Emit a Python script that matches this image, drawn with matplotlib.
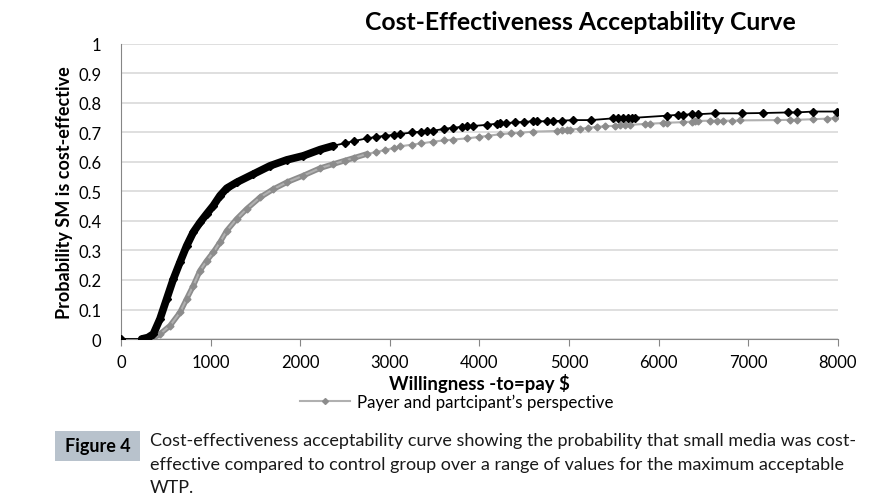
import matplotlib.pyplot as plt
import matplotlib.patches as mpatches
from matplotlib.lines import Line2D

plt.rcParams['font.family'] = ['Lato', 'DejaVu Sans']

# black curve (no legend entry in the original)
sm_x = [0, 231, 300, 361, 435, 510, 584, 658, 733, 807, 882, 956, 1030, 1105,
        1180, 1291, 1477, 1663, 1849, 2035, 2221, 2370, 2500, 2600, 2742, 2850,
        2950, 3050, 3114, 3250, 3350, 3420, 3485, 3600, 3700, 3800, 3858, 3930,
        4085, 4200, 4230, 4300, 4400, 4500, 4602, 4643, 4754, 4825, 4918, 5041,
        5242, 5495, 5550, 5606, 5662, 5699, 5737, 6090, 6220, 6275, 6369, 6443,
        6629, 6927, 7169, 7448, 7541, 7727, 7988]
sm_y = [0, 0, 0.005, 0.017, 0.068, 0.136, 0.203, 0.26, 0.316, 0.362, 0.395,
        0.424, 0.452, 0.486, 0.511, 0.531, 0.559, 0.587, 0.607, 0.621, 0.642,
        0.655, 0.664, 0.671, 0.68, 0.685, 0.689, 0.692, 0.695, 0.700, 0.703,
        0.704, 0.706, 0.712, 0.716, 0.719, 0.721, 0.722, 0.726, 0.730, 0.731,
        0.732, 0.734, 0.736, 0.738, 0.738, 0.738, 0.738, 0.740, 0.742, 0.742,
        0.748, 0.749, 0.749, 0.750, 0.750, 0.750, 0.757, 0.760, 0.760, 0.762,
        0.762, 0.765, 0.765, 0.766, 0.768, 0.768, 0.771, 0.771]

# gray curve: payer and participant's perspective
pp_x = [0, 342, 435, 547, 658, 733, 807, 882, 956, 1030, 1105, 1180, 1291,
        1403, 1551, 1700, 1849, 2035, 2221, 2370, 2500, 2600, 2742, 2850, 2950,
        3050, 3114, 3250, 3350, 3485, 3600, 3700, 3858, 4000, 4100, 4230, 4350,
        4450, 4602, 4862, 4918, 4974, 5011, 5123, 5216, 5309, 5402, 5514, 5570,
        5625, 5681, 5848, 5904, 6053, 6090, 6276, 6369, 6406, 6443, 6573, 6648,
        6722, 6815, 6908, 7318, 7467, 7541, 7727, 7876, 7969]
pp_y = [0, 0, 0.017, 0.045, 0.09, 0.136, 0.181, 0.232, 0.265, 0.294, 0.328,
        0.367, 0.407, 0.441, 0.48, 0.508, 0.531, 0.554, 0.579, 0.593, 0.605,
        0.614, 0.627, 0.634, 0.641, 0.648, 0.653, 0.659, 0.663, 0.669, 0.673,
        0.676, 0.68, 0.685, 0.689, 0.694, 0.697, 0.699, 0.703, 0.705, 0.707,
        0.709, 0.710, 0.713, 0.716, 0.719, 0.721, 0.723, 0.724, 0.725, 0.726,
        0.729, 0.730, 0.732, 0.733, 0.735, 0.737, 0.738, 0.739, 0.740, 0.740,
        0.740, 0.740, 0.741, 0.742, 0.743, 0.743, 0.745, 0.747, 0.749]

x_ticks = [0, 1000, 2000, 3000, 4000, 5000, 6000, 7000, 8000]
y_ticks = [0, 0.1, 0.2, 0.3, 0.4, 0.5, 0.6, 0.7, 0.8, 0.9, 1]

fig = plt.figure(figsize=(8.78, 5.02), dpi=100)
ax = fig.add_axes([0.1378, 0.3227, 0.8166, 0.5877])

gray = '#8c8c8c'
# dense simulation region drawn as a thick band
dense_pp = [i for i, v in enumerate(pp_x) if 342 <= v <= 2800]
dense_sm = [i for i, v in enumerate(sm_x) if 231 <= v <= 2400]
ax.plot([pp_x[i] for i in dense_pp], [pp_y[i] for i in dense_pp], color=gray,
        lw=4, solid_capstyle='round', zorder=2)
ax.plot(pp_x, pp_y, color='#b0b0b0', lw=1.5, marker='D', ms=3.5,
        mfc=gray, mec=gray, zorder=2)
ax.plot([sm_x[i] for i in dense_sm], [sm_y[i] for i in dense_sm], color='black',
        lw=5.5, solid_capstyle='round', zorder=3)
ax.plot(sm_x, sm_y, color='black', lw=1.3, marker='D', ms=4.5, zorder=3)

ax.set_xlim(0, 8000)
ax.set_ylim(0, 1)
ax.set_xticks(x_ticks)
ax.set_xticklabels([str(v) for v in x_ticks])
ax.set_yticks(y_ticks)
ax.set_yticklabels(['0', '0.1', '0.2', '0.3', '0.4', '0.5', '0.6', '0.7', '0.8', '0.9', '1'])
ax.grid(axis='y', color='#d9d9d9', lw=1.2)
ax.set_axisbelow(True)
for s in ['top', 'right']:
    ax.spines[s].set_visible(False)
ax.spines['left'].set_color('#868686')
ax.spines['bottom'].set_color('#868686')
ax.tick_params(axis='x', direction='out', length=5, color='#868686',
               labelsize=12, pad=6)
ax.tick_params(axis='y', length=0, labelsize=12, pad=14)

ax.set_xlabel('Willingness -to=pay $', fontsize=13.4, fontweight='bold', labelpad=2)
ax.set_ylabel('Probability SM is cost-effective', fontsize=13, fontweight='bold',
              labelpad=4)

fig.text(0.661, 0.955, 'Cost-Effectiveness Acceptability Curve', fontsize=17.8,
         fontweight='bold', ha='center', va='center')

handle = Line2D([], [], color='#b0b0b0', lw=1.5, marker='D', ms=3,
                mfc=gray, mec=gray)
fig.legend([handle], ['Payer and partcipant\u2019s perspective'], loc='center',
           bbox_to_anchor=(0.52, 0.197), frameon=False, fontsize=12.2,
           handlelength=3, handletextpad=0.4)

# caption
fig.patches.append(mpatches.Rectangle((0.0626, 0.080), 0.0974, 0.060,
                                      transform=fig.transFigure,
                                      facecolor='#b8c2cc', edgecolor='none'))
fig.text(0.111, 0.110, 'Figure 4', fontsize=13, fontweight='bold',
         ha='center', va='center')
cap_lines = ['Cost-effectiveness acceptability curve showing the probability that small media was cost-',
             'effective compared to control group over a range of values for the maximum acceptable',
             'WTP.']
for i, line in enumerate(cap_lines):
    fig.text(0.171, 0.121 - i * 0.047, line, fontsize=13, ha='left', va='center',
             color='#1a1a1a')

fig.savefig('out.png', dpi=100)
